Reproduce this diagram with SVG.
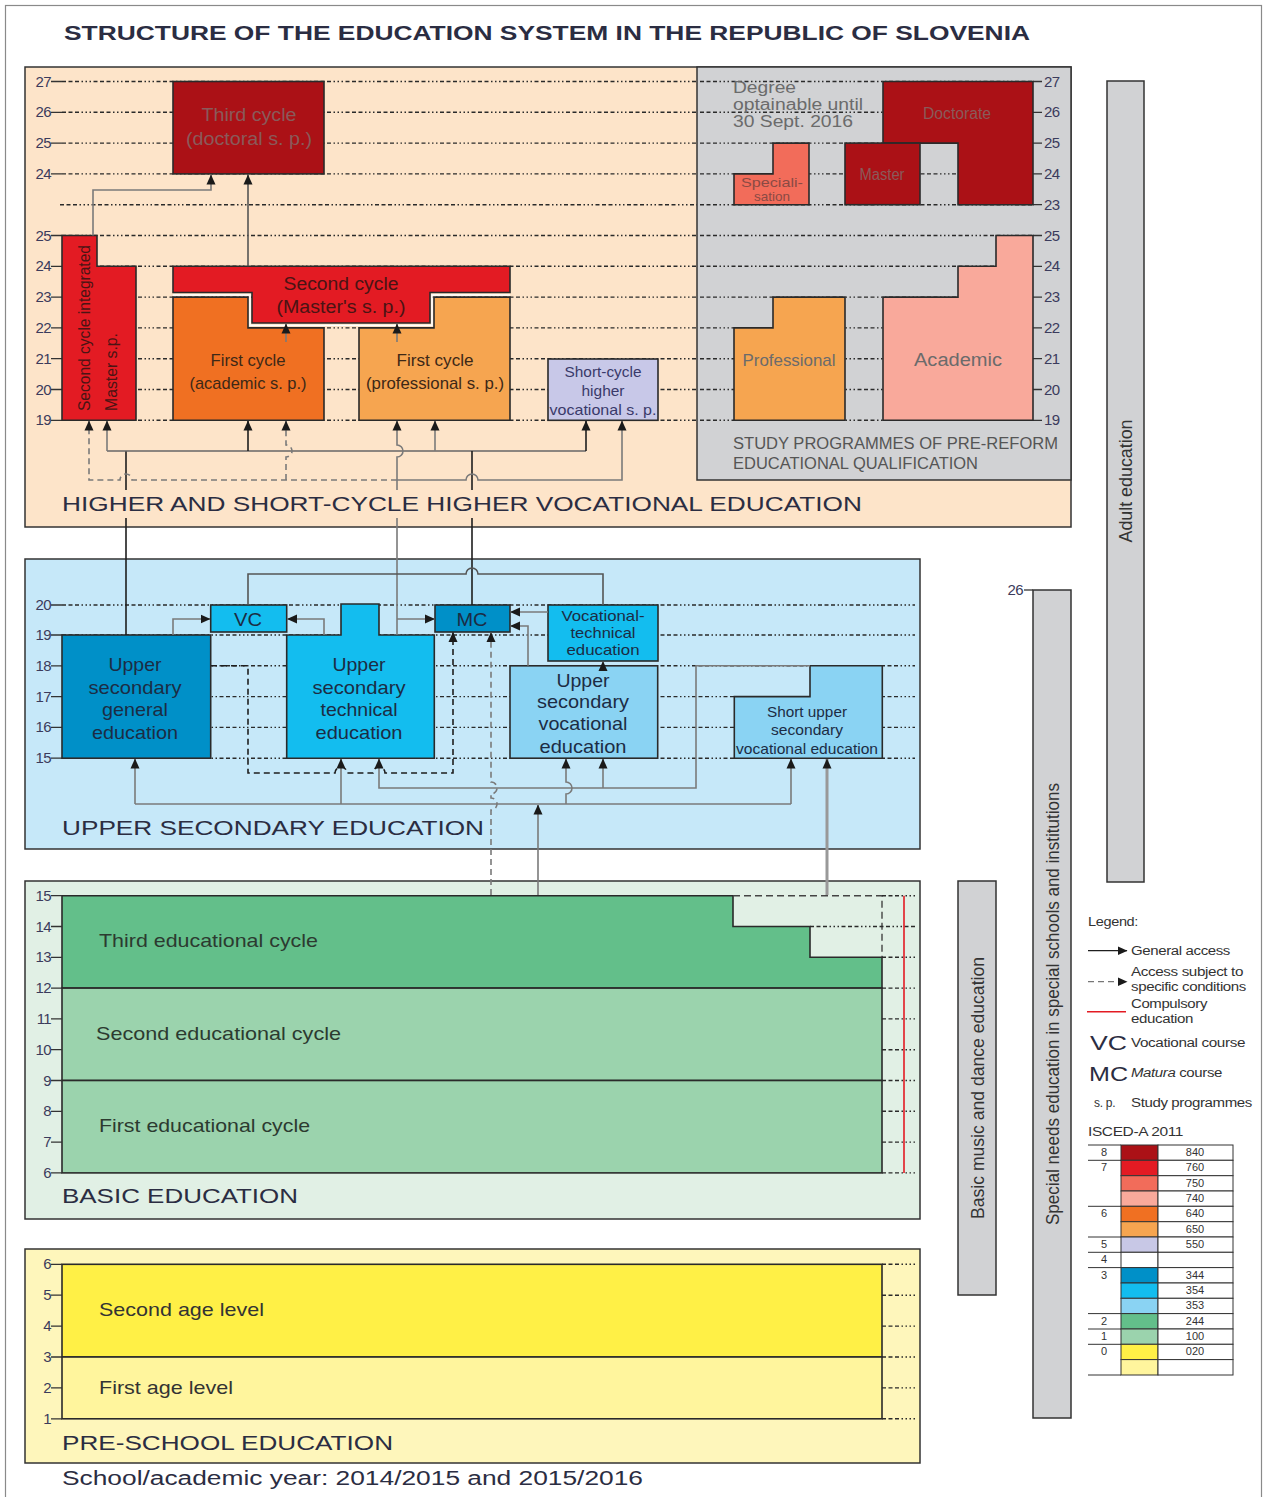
<svg xmlns="http://www.w3.org/2000/svg" width="1266" height="1497" viewBox="0 0 1266 1497">
<defs>
<marker id="ah" viewBox="0 0 10 10" refX="9.5" refY="5" markerWidth="10" markerHeight="10" markerUnits="userSpaceOnUse" orient="auto"><path d="M0,0.5 L10,5 L0,9.5z" fill="#1a1a1a"/></marker>
</defs>
<style>
text{font-family:"Liberation Sans",Arial,sans-serif}
.dot{stroke:#2a2a2a;stroke-width:1.4;stroke-dasharray:4 2.5 4 2.5 4 2.5 1.5 2.5 1.5 2.5 1.5 2.5;fill:none}
.tick{stroke:#333;stroke-width:1.3;fill:none}
.box{stroke:#2a2a2a;stroke-width:1.6}
.num{font-size:15px;fill:#3b3b5c;text-anchor:end;letter-spacing:-0.6px}
.rnum{font-size:15px;fill:#3b3b5c;letter-spacing:-0.6px}
.sect{font-size:21px;fill:#2b2d42}
.m{text-anchor:middle}
.k{stroke:#1e1e1e;stroke-width:1.6;fill:none}
.g{stroke:#7a7a7a;stroke-width:1.6;fill:none}
.d{stroke-dasharray:6 4}
.dr{fill:#8a5a5a}
.rd{fill:#4a1414}
.or{fill:#3d2817}
.bl{fill:#1c2c44}
.gr{fill:#6b6b6b}
.lg{font-size:12px;fill:#333;letter-spacing:-0.3px}
.cell{stroke:#333;stroke-width:1}
</style>
<rect x="5.5" y="5.5" width="1256" height="1500" fill="#fff" stroke="#8a8a8a" stroke-width="1.2"/>
<text x="64" y="40" font-size="21" font-weight="bold" fill="#2b2d42" textLength="966" lengthAdjust="spacingAndGlyphs">STRUCTURE OF THE EDUCATION SYSTEM IN THE REPUBLIC OF SLOVENIA</text>

<g id="higher-education">
<rect x="25" y="67" width="1046" height="460" fill="#fde4c9" stroke="#333" stroke-width="1.5"/>
<rect x="697" y="67" width="374" height="413" fill="#d1d2d4" stroke="#333" stroke-width="1.5"/>
<path class="dot" d="M62,81.5H697M62,112.3H697M62,143.1H697M62,173.9H697M60,204.7H697M62,235.5H697M62,266.3H697M62,297.1H697M62,327.9H697M62,358.7H697M62,389.5H697M62,420.3H697"/>
<path class="dot" d="M700,81.5H1033M700,112.3H1033M700,143.1H1033M700,173.9H1033M700,204.7H1033M700,235.5H1033M700,266.3H1033M700,297.1H1033M700,327.9H1033M700,358.7H1033M700,389.5H1033M700,420.3H1033"/>
<path class="tick" d="M51,81.5H62M51,112.3H62M51,143.1H62M51,173.9H62M51,235.5H62M51,266.3H62M51,297.1H62M51,327.9H62M51,358.7H62M51,389.5H62M51,420.3H62"/>
<path class="tick" d="M1033,81.5H1042M1033,112.3H1042M1033,143.1H1042M1033,173.9H1042M1033,204.7H1042M1033,235.5H1042M1033,266.3H1042M1033,297.1H1042M1033,327.9H1042M1033,358.7H1042M1033,389.5H1042M1033,420.3H1042"/>
<g class="num">
<text x="51" y="86.5">27</text><text x="51" y="117.3">26</text><text x="51" y="148.1">25</text><text x="51" y="178.9">24</text>
<text x="51" y="240.5">25</text><text x="51" y="271.3">24</text><text x="51" y="302.1">23</text><text x="51" y="332.9">22</text><text x="51" y="363.7">21</text><text x="51" y="394.5">20</text><text x="51" y="425.3">19</text>
</g>
<g class="rnum">
<text x="1044" y="86.5">27</text><text x="1044" y="117.3">26</text><text x="1044" y="148.1">25</text><text x="1044" y="178.9">24</text><text x="1044" y="209.7">23</text>
<text x="1044" y="240.5">25</text><text x="1044" y="271.3">24</text><text x="1044" y="302.1">23</text><text x="1044" y="332.9">22</text><text x="1044" y="363.7">21</text><text x="1044" y="394.5">20</text><text x="1044" y="425.3">19</text>
</g>
<text class="sect" x="62" y="511" textLength="800" lengthAdjust="spacingAndGlyphs">HIGHER AND SHORT-CYCLE HIGHER VOCATIONAL EDUCATION</text>
</g>

<g id="third-cycle">
<rect class="box" x="173" y="81.5" width="151" height="92.4" fill="#ab1116"/>
<text class="m dr" x="249" y="121" font-size="18" textLength="95" lengthAdjust="spacingAndGlyphs">Third cycle</text>
<text class="m dr" x="249" y="145" font-size="18" textLength="126" lengthAdjust="spacingAndGlyphs">(doctoral s. p.)</text>
</g>

<g id="second-cycle-integrated">
<polygon class="box" points="62,235.5 97,235.5 97,266.3 136,266.3 136,420.3 62,420.3" fill="#e31b23"/>
<text class="rd" transform="translate(90,411) rotate(-90)" font-size="16" textLength="166" lengthAdjust="spacingAndGlyphs">Second cycle integrated</text>
<text class="rd" transform="translate(117,411) rotate(-90)" font-size="16" textLength="78" lengthAdjust="spacingAndGlyphs">Master s.p.</text>
</g>

<g id="second-cycle">
<polygon class="box" points="173,266.3 510,266.3 510,292.5 430,292.5 430,323 252,323 252,292.5 173,292.5" fill="#e31b23"/>
<text class="m rd" x="341" y="290" font-size="18" textLength="115" lengthAdjust="spacingAndGlyphs">Second cycle</text>
<text class="m rd" x="341" y="313" font-size="18" textLength="129" lengthAdjust="spacingAndGlyphs">(Master's s. p.)</text>
</g>

<g id="first-cycle-academic">
<polygon class="box" points="173,297.1 248,297.1 248,327.9 324,327.9 324,420.3 173,420.3" fill="#f07022"/>
<text class="m or" x="248" y="366" font-size="17" textLength="75" lengthAdjust="spacingAndGlyphs">First cycle</text>
<text class="m or" x="248" y="389" font-size="17" textLength="117" lengthAdjust="spacingAndGlyphs">(academic s. p.)</text>
</g>

<g id="first-cycle-professional">
<polygon class="box" points="359,327.9 434,327.9 434,297.1 510,297.1 510,420.3 359,420.3" fill="#f6a550"/>
<text class="m or" x="435" y="366" font-size="17" textLength="77" lengthAdjust="spacingAndGlyphs">First cycle</text>
<text class="m or" x="435" y="389" font-size="17" textLength="138" lengthAdjust="spacingAndGlyphs">(professional s. p.)</text>
</g>
<path d="M173,295 H250 V325.4 H432 V295 H510" fill="none" stroke="#fff" stroke-width="1.4"/>

<g id="short-cycle-higher-vocational">
<rect class="box" x="548" y="359" width="110" height="61.3" fill="#c8c8e8"/>
<text class="m" fill="#3a3a6a" x="603" y="377" font-size="15" textLength="77" lengthAdjust="spacingAndGlyphs">Short-cycle</text>
<text class="m" fill="#3a3a6a" x="603" y="396" font-size="15" textLength="43" lengthAdjust="spacingAndGlyphs">higher</text>
<text class="m" fill="#3a3a6a" x="603" y="415" font-size="15" textLength="107" lengthAdjust="spacingAndGlyphs">vocational s. p.</text>
</g>

<g id="pre-reform">
<text class="gr" x="733" y="93" font-size="16" textLength="63" lengthAdjust="spacingAndGlyphs">Degree</text>
<text class="gr" x="733" y="110" font-size="16" textLength="130" lengthAdjust="spacingAndGlyphs">optainable until</text>
<text class="gr" x="733" y="127" font-size="16" textLength="120" lengthAdjust="spacingAndGlyphs">30 Sept. 2016</text>
<polygon class="box" points="883,81.5 1033,81.5 1033,204.7 958,204.7 958,143.1 883,143.1" fill="#ab1116"/>
<text class="m" fill="#8a5a5a" x="957" y="119" font-size="16" textLength="68" lengthAdjust="spacingAndGlyphs">Doctorate</text>
<rect class="box" x="845" y="143.1" width="75" height="61.6" fill="#ab1116"/>
<text class="m" fill="#8a5a5a" x="882" y="180" font-size="16" textLength="45" lengthAdjust="spacingAndGlyphs">Master</text>
<polygon class="box" points="734,173.9 773,173.9 773,143.1 809,143.1 809,204.7 734,204.7" fill="#f26c5a"/>
<text class="m" fill="#8a4a44" x="772" y="187" font-size="13" textLength="62" lengthAdjust="spacingAndGlyphs">Speciali-</text>
<text class="m" fill="#8a4a44" x="772" y="201" font-size="13" textLength="36" lengthAdjust="spacingAndGlyphs">sation</text>
<polygon class="box" points="734,327.9 773,327.9 773,297.1 845,297.1 845,420.3 734,420.3" fill="#f6a550"/>
<text class="m gr" x="789" y="366" font-size="17" textLength="93" lengthAdjust="spacingAndGlyphs">Professional</text>
<polygon class="box" points="883,297.1 958,297.1 958,266.3 996,266.3 996,235.5 1033,235.5 1033,420.3 883,420.3" fill="#f9a99b"/>
<text class="m gr" x="958" y="366" font-size="18" textLength="88" lengthAdjust="spacingAndGlyphs">Academic</text>
<text fill="#555" x="733" y="449" font-size="16" textLength="325" lengthAdjust="spacingAndGlyphs">STUDY PROGRAMMES OF PRE-REFORM</text>
<text fill="#555" x="733" y="469" font-size="16" textLength="245" lengthAdjust="spacingAndGlyphs">EDUCATIONAL QUALIFICATION</text>
</g>

<g id="upper-secondary-education">
<rect x="25" y="559" width="895" height="290" fill="#c6e8f9" stroke="#333" stroke-width="1.5"/>
<path class="dot" d="M62,605H915M62,635H915M62,665.8H915M62,696.6H915M62,727.4H915M62,758.2H915"/>
<path class="tick" d="M51,605H62M51,635H62M51,665.8H62M51,696.6H62M51,727.4H62M51,758.2H62"/>
<g class="num"><text x="51" y="610">20</text><text x="51" y="640">19</text><text x="51" y="670.8">18</text><text x="51" y="701.6">17</text><text x="51" y="732.4">16</text><text x="51" y="763.2">15</text></g>
<text class="sect" x="62" y="835" textLength="422" lengthAdjust="spacingAndGlyphs">UPPER SECONDARY EDUCATION</text>
</g>

<g id="upper-secondary-general">
<rect class="box" x="62" y="635" width="148.7" height="123.2" fill="#0090c8"/>
<g class="m bl" font-size="19">
<text x="135" y="671" textLength="53" lengthAdjust="spacingAndGlyphs">Upper</text>
<text x="135" y="693.5" textLength="93" lengthAdjust="spacingAndGlyphs">secondary</text>
<text x="135" y="716" textLength="66" lengthAdjust="spacingAndGlyphs">general</text>
<text x="135" y="738.5" textLength="86" lengthAdjust="spacingAndGlyphs">education</text>
</g>
</g>

<g id="vc">
<rect class="box" x="210.7" y="605" width="76" height="27" fill="#13bdef"/>
<text class="m bl" x="248" y="626" font-size="18" textLength="28" lengthAdjust="spacingAndGlyphs">VC</text>
</g>

<g id="upper-secondary-technical">
<polygon class="box" points="286.7,635 341,635 341,604 379,604 379,635 434.3,635 434.3,758.2 286.7,758.2" fill="#13bdef"/>
<g class="m bl" font-size="19">
<text x="359" y="671" textLength="53" lengthAdjust="spacingAndGlyphs">Upper</text>
<text x="359" y="693.5" textLength="93" lengthAdjust="spacingAndGlyphs">secondary</text>
<text x="359" y="716" textLength="77" lengthAdjust="spacingAndGlyphs">technical</text>
<text x="359" y="738.5" textLength="87" lengthAdjust="spacingAndGlyphs">education</text>
</g>
</g>

<g id="mc">
<rect class="box" x="435" y="605" width="75" height="27" fill="#0090c8"/>
<text class="m bl" x="472" y="626" font-size="18" textLength="31" lengthAdjust="spacingAndGlyphs">MC</text>
</g>

<g id="vocational-technical">
<rect class="box" x="548" y="605" width="110" height="56" fill="#13bdef"/>
<g class="m bl" font-size="15">
<text x="603" y="621" textLength="83" lengthAdjust="spacingAndGlyphs">Vocational-</text>
<text x="603" y="638" textLength="65" lengthAdjust="spacingAndGlyphs">technical</text>
<text x="603" y="655" textLength="73" lengthAdjust="spacingAndGlyphs">education</text>
</g>
</g>

<g id="upper-secondary-vocational">
<rect class="box" x="510" y="665.8" width="147.7" height="92.4" fill="#8ad3f3"/>
<g class="m bl" font-size="19">
<text x="583" y="686.5" textLength="53" lengthAdjust="spacingAndGlyphs">Upper</text>
<text x="583" y="708" textLength="92" lengthAdjust="spacingAndGlyphs">secondary</text>
<text x="583" y="729.5" textLength="89" lengthAdjust="spacingAndGlyphs">vocational</text>
<text x="583" y="753" textLength="87" lengthAdjust="spacingAndGlyphs">education</text>
</g>
</g>

<g id="short-upper-secondary-vocational">
<polygon class="box" points="734.3,696.6 810,696.6 810,665.8 882.3,665.8 882.3,758.2 734.3,758.2" fill="#8ad3f3"/>
<g class="m bl" font-size="15">
<text x="807" y="717" textLength="80" lengthAdjust="spacingAndGlyphs">Short upper</text>
<text x="807" y="734.5" textLength="72" lengthAdjust="spacingAndGlyphs">secondary</text>
<text x="807" y="753.5" textLength="142" lengthAdjust="spacingAndGlyphs">vocational education</text>
</g>
</g>

<g id="basic-education">
<rect x="25" y="881" width="895" height="338" fill="#e1f0e5" stroke="#333" stroke-width="1.5"/>
<polygon class="box" points="62,895.7 733,895.7 733,926.5 810,926.5 810,957.3 882,957.3 882,988.1 62,988.1" fill="#63bf8a"/>
<rect class="box" x="62" y="988.1" width="820" height="92.4" fill="#9bd3ad"/>
<rect class="box" x="62" y="1080.5" width="820" height="92.4" fill="#9bd3ad"/>
<path d="M733,895.7H882V957.3" fill="none" stroke="#444" stroke-width="1.4" stroke-dasharray="7 4"/>
<path class="dot" d="M882,895.7H915M810,926.5H915M882,957.3H915M882,988.1H915M882,1018.9H915M882,1049.7H915M882,1080.5H915M882,1111.3H915M882,1142.1H915M882,1172.9H915"/>
<path d="M904,895.7V1172.9" stroke="#e31b23" stroke-width="1.6"/>
<path class="tick" d="M51,895.7H62M51,926.5H62M51,957.3H62M51,988.1H62M51,1018.9H62M51,1049.7H62M51,1080.5H62M51,1111.3H62M51,1142.1H62M51,1172.9H62"/>
<g class="num"><text x="51" y="900.7">15</text><text x="51" y="931.5">14</text><text x="51" y="962.3">13</text><text x="51" y="993.1">12</text><text x="51" y="1023.9">11</text><text x="51" y="1054.7">10</text><text x="51" y="1085.5">9</text><text x="51" y="1116.3">8</text><text x="51" y="1147.1">7</text><text x="51" y="1177.9">6</text></g>
<text fill="#2c3a30" x="99" y="947" font-size="19" textLength="219" lengthAdjust="spacingAndGlyphs">Third educational cycle</text>
<text fill="#2c3a30" x="96" y="1040" font-size="19" textLength="245" lengthAdjust="spacingAndGlyphs">Second educational cycle</text>
<text fill="#2c3a30" x="99" y="1132" font-size="19" textLength="211" lengthAdjust="spacingAndGlyphs">First educational cycle</text>
<text class="sect" x="62" y="1203" textLength="236" lengthAdjust="spacingAndGlyphs">BASIC EDUCATION</text>
</g>

<g id="pre-school-education">
<rect x="25" y="1249" width="895" height="214" fill="#fef6bb" stroke="#333" stroke-width="1.5"/>
<rect class="box" x="62" y="1264.3" width="820" height="92.7" fill="#fff046"/>
<rect class="box" x="62" y="1357" width="820" height="61.8" fill="#fff59d"/>
<path class="dot" d="M882,1264.3H915M882,1295.2H915M882,1326.1H915M882,1357H915M882,1387.9H915M882,1418.8H915"/>
<path class="tick" d="M51,1264.3H62M51,1295.2H62M51,1326.1H62M51,1357H62M51,1387.9H62M51,1418.8H62"/>
<g class="num"><text x="51" y="1269.3">6</text><text x="51" y="1300.2">5</text><text x="51" y="1331.1">4</text><text x="51" y="1362">3</text><text x="51" y="1392.9">2</text><text x="51" y="1423.8">1</text></g>
<text fill="#333" x="99" y="1316" font-size="19" textLength="165" lengthAdjust="spacingAndGlyphs">Second age level</text>
<text fill="#333" x="99" y="1394" font-size="19" textLength="134" lengthAdjust="spacingAndGlyphs">First age level</text>
<text class="sect" x="62" y="1450" textLength="331" lengthAdjust="spacingAndGlyphs">PRE-SCHOOL EDUCATION</text>
</g>
<text fill="#2b2d42" x="62" y="1485" font-size="20" textLength="581" lengthAdjust="spacingAndGlyphs">School/academic year: 2014/2015 and 2015/2016</text>

<g id="basic-music-dance">
<rect x="958" y="881" width="38" height="414" fill="#d1d2d4" stroke="#333" stroke-width="1.5"/>
<text class="m" fill="#333" transform="translate(983.5,1088) rotate(-90)" font-size="18" textLength="262" lengthAdjust="spacingAndGlyphs">Basic music and dance education</text>
</g>
<g id="special-needs">
<rect x="1033" y="590" width="38" height="828" fill="#d1d2d4" stroke="#333" stroke-width="1.5"/>
<path class="tick" d="M1024,590H1033"/>
<text class="num" x="1023" y="595">26</text>
<text class="m" fill="#333" transform="translate(1058.5,1004) rotate(-90)" font-size="18" textLength="442" lengthAdjust="spacingAndGlyphs">Special needs education in special schools and institutions</text>
</g>
<g id="adult-education">
<rect x="1107" y="81" width="37" height="801" fill="#d1d2d4" stroke="#333" stroke-width="1.5"/>
<text class="m" fill="#333" transform="translate(1132,481) rotate(-90)" font-size="18" textLength="123" lengthAdjust="spacingAndGlyphs">Adult education</text>
</g>

<g id="legend">
<text class="lg" x="1088" y="926" textLength="50" lengthAdjust="spacingAndGlyphs">Legend:</text>
<path d="M1088,950.7H1127" stroke="#1e1e1e" stroke-width="1.3" marker-end="url(#ah)"/>
<text class="lg" x="1131" y="955" textLength="99" lengthAdjust="spacingAndGlyphs">General access</text>
<path d="M1088,981.7H1127" stroke="#777" stroke-width="1.3" stroke-dasharray="6 4" marker-end="url(#ah)"/>
<text class="lg" x="1131" y="976" textLength="112" lengthAdjust="spacingAndGlyphs">Access subject to</text>
<text class="lg" x="1131" y="991" textLength="115" lengthAdjust="spacingAndGlyphs">specific conditions</text>
<path d="M1087,1011.7H1126" stroke="#e31b23" stroke-width="1.6"/>
<text class="lg" x="1131" y="1008" textLength="76" lengthAdjust="spacingAndGlyphs">Compulsory</text>
<text class="lg" x="1131" y="1023" textLength="62" lengthAdjust="spacingAndGlyphs">education</text>
<text x="1090" y="1050" font-size="20" fill="#2b2d42" textLength="37" lengthAdjust="spacingAndGlyphs">VC</text>
<text class="lg" x="1131" y="1047" textLength="114" lengthAdjust="spacingAndGlyphs">Vocational course</text>
<text x="1089" y="1081" font-size="20" fill="#2b2d42" textLength="39" lengthAdjust="spacingAndGlyphs">MC</text>
<text class="lg" x="1131" y="1077" textLength="91" lengthAdjust="spacingAndGlyphs"><tspan font-style="italic">Matura</tspan> course</text>
<text class="lg" x="1094" y="1107">s. p.</text>
<text class="lg" x="1131" y="1107" textLength="121" lengthAdjust="spacingAndGlyphs">Study programmes</text>
<text class="lg" x="1088" y="1136" textLength="95" lengthAdjust="spacingAndGlyphs">ISCED-A 2011</text>
<g class="cell">
<rect x="1121" y="1145" width="37" height="15.3" fill="#ab1116"/><rect x="1158" y="1145" width="75" height="15.3" fill="#fff"/>
<rect x="1121" y="1160.3" width="37" height="15.4" fill="#e31b23"/><rect x="1158" y="1160.3" width="75" height="15.4" fill="#fff"/>
<rect x="1121" y="1175.7" width="37" height="15.3" fill="#f26c5a"/><rect x="1158" y="1175.7" width="75" height="15.3" fill="#fff"/>
<rect x="1121" y="1191" width="37" height="15.3" fill="#f9a99b"/><rect x="1158" y="1191" width="75" height="15.3" fill="#fff"/>
<rect x="1121" y="1206.3" width="37" height="15.4" fill="#f07022"/><rect x="1158" y="1206.3" width="75" height="15.4" fill="#fff"/>
<rect x="1121" y="1221.7" width="37" height="15.3" fill="#f6a550"/><rect x="1158" y="1221.7" width="75" height="15.3" fill="#fff"/>
<rect x="1121" y="1237" width="37" height="15.3" fill="#c8c8e6"/><rect x="1158" y="1237" width="75" height="15.3" fill="#fff"/>
<rect x="1121" y="1252.3" width="37" height="15.3" fill="#fff"/><rect x="1158" y="1252.3" width="75" height="15.3" fill="#fff"/>
<rect x="1121" y="1267.6" width="37" height="15.4" fill="#0090c8"/><rect x="1158" y="1267.6" width="75" height="15.4" fill="#fff"/>
<rect x="1121" y="1283" width="37" height="15.3" fill="#13bdef"/><rect x="1158" y="1283" width="75" height="15.3" fill="#fff"/>
<rect x="1121" y="1298.3" width="37" height="15.3" fill="#8ad3f3"/><rect x="1158" y="1298.3" width="75" height="15.3" fill="#fff"/>
<rect x="1121" y="1313.6" width="37" height="15.4" fill="#63bf8a"/><rect x="1158" y="1313.6" width="75" height="15.4" fill="#fff"/>
<rect x="1121" y="1329" width="37" height="15.3" fill="#9bd3ad"/><rect x="1158" y="1329" width="75" height="15.3" fill="#fff"/>
<rect x="1121" y="1344.3" width="37" height="15.3" fill="#fff046"/><rect x="1158" y="1344.3" width="75" height="15.3" fill="#fff"/>
<rect x="1121" y="1359.6" width="37" height="15.4" fill="#fff59d"/><rect x="1158" y="1359.6" width="75" height="15.4" fill="#fff"/>
<path d="M1088,1145H1121M1088,1160.3H1121M1088,1206.3H1121M1088,1237H1121M1088,1252.3H1121M1088,1267.6H1121M1088,1313.6H1121M1088,1329H1121M1088,1344.3H1121M1088,1375H1121" fill="none"/>
</g>
<g class="m" font-size="11" fill="#333">
<text x="1104" y="1156">8</text><text x="1104" y="1171.3">7</text><text x="1104" y="1217.3">6</text><text x="1104" y="1248">5</text><text x="1104" y="1263.3">4</text><text x="1104" y="1278.6">3</text><text x="1104" y="1324.6">2</text><text x="1104" y="1340">1</text><text x="1104" y="1355.3">0</text>
<text x="1195" y="1156">840</text><text x="1195" y="1171.3">760</text><text x="1195" y="1186.7">750</text><text x="1195" y="1202">740</text><text x="1195" y="1217.3">640</text><text x="1195" y="1232.7">650</text><text x="1195" y="1248">550</text><text x="1195" y="1278.6">344</text><text x="1195" y="1294">354</text><text x="1195" y="1309.3">353</text><text x="1195" y="1324.6">244</text><text x="1195" y="1340">100</text><text x="1195" y="1355.3">020</text>
</g>
</g>

<g id="connectors">
<path class="k" d="M126,635V518M126,490V451"/>
<path d="M107,451H586" stroke="#666" stroke-width="1.6" fill="none"/>
<path class="g" d="M107,451V421" marker-end="url(#ah)"/>
<path class="k" d="M248,451V421" marker-end="url(#ah)"/>
<path class="g" d="M435,451V421" marker-end="url(#ah)"/>
<path class="k" d="M586,451V421" marker-end="url(#ah)"/>
<path class="k" d="M472,605V518M472,490V451"/>
<path class="g" d="M397,635V518M397,490V457a6,6 0 0 0 0,-12V421" marker-end="url(#ah)"/>
<path class="g" d="M397,480H466a6,6 0 0 1 12,0H622V421" marker-end="url(#ah)"/>
<path class="g d" d="M397,480H132a6,6 0 0 0 -12,0H89V421" marker-end="url(#ah)"/>
<path class="g d" d="M286,480V457a6,6 0 0 0 0,-12V421" marker-end="url(#ah)"/>
<path class="g" d="M93,235.5V190H211V175" marker-end="url(#ah)"/>
<path d="M248,266.3V175" stroke="#555" stroke-width="1.6" fill="none" marker-end="url(#ah)"/>
<path class="g" d="M286,342V324" marker-end="url(#ah)"/>
<path class="g" d="M397,342V324" marker-end="url(#ah)"/>
<path d="M248,605V574H466a6,6 0 0 1 12,0H603V605" stroke="#555" stroke-width="1.6" fill="none"/>
<path class="g" d="M173,635V619H210" marker-end="url(#ah)"/>
<path class="g" d="M324,635V619H287.5" marker-end="url(#ah)"/>
<path class="g" d="M397,619H434.5" marker-end="url(#ah)"/>
<path class="g" d="M548,612H510.5" marker-end="url(#ah)"/>
<path class="g" d="M528,665.8V626H510.5" marker-end="url(#ah)"/>
<path class="g" d="M603,665.8V661.5" marker-end="url(#ah)"/>
<path class="k d" d="M211,665.8H248V773H335a6,6 0 0 1 12,0H373a6,6 0 0 1 12,0H453V632.5" marker-end="url(#ah)"/>
<path class="g d" d="M491,895V810a6,6 0 0 0 0,-12V794a6,6 0 0 0 0,-12V632.5" marker-end="url(#ah)"/>
<path class="g" d="M135,804H791"/>
<path class="g" d="M135,804V759" marker-end="url(#ah)"/>
<path class="g" d="M341,804V759" marker-end="url(#ah)"/>
<path class="g" d="M566,804V794a6,6 0 0 0 0,-12V759" marker-end="url(#ah)"/>
<path class="g" d="M791,804V759" marker-end="url(#ah)"/>
<path class="g" d="M810,665.8H696V788H379V759" marker-end="url(#ah)"/>
<path class="g" d="M603,788V759" marker-end="url(#ah)"/>
<path class="g" d="M538,895V805" marker-end="url(#ah)"/>
<path d="M827,895V759" stroke="#999" stroke-width="3" fill="none" marker-end="url(#ah)"/>
</g>
</svg>
